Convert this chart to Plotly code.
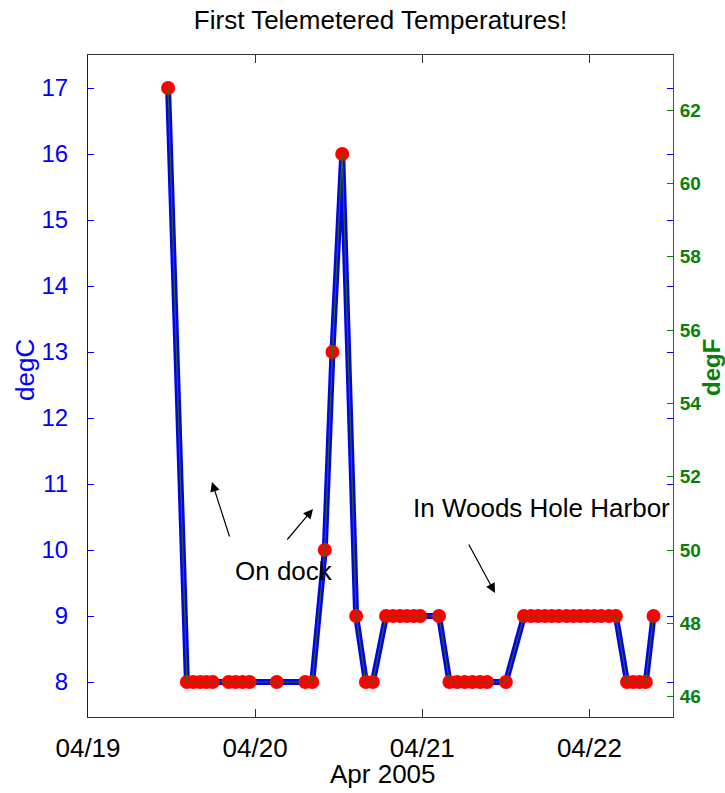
import plotly.graph_objects as go

# ---- data ----
times = [
    "2005-04-19 11:30",
    "2005-04-19 14:12", "2005-04-19 15:06", "2005-04-19 16:06", "2005-04-19 17:00", "2005-04-19 17:54",
    "2005-04-19 20:12", "2005-04-19 21:12", "2005-04-19 22:12", "2005-04-19 23:12",
    "2005-04-20 03:06",
    "2005-04-20 07:12", "2005-04-20 08:12",
    "2005-04-20 10:00", "2005-04-20 11:06", "2005-04-20 12:30", "2005-04-20 14:30",
    "2005-04-20 15:54", "2005-04-20 16:54",
    "2005-04-20 18:48", "2005-04-20 19:48", "2005-04-20 20:48", "2005-04-20 21:48", "2005-04-20 22:48", "2005-04-20 23:42",
    "2005-04-21 02:24",
    "2005-04-21 03:54", "2005-04-21 05:00", "2005-04-21 06:06", "2005-04-21 07:12", "2005-04-21 08:18", "2005-04-21 09:18",
    "2005-04-21 12:00",
    "2005-04-21 14:36", "2005-04-21 15:36", "2005-04-21 16:36", "2005-04-21 17:36", "2005-04-21 18:36",
    "2005-04-21 19:36", "2005-04-21 20:42", "2005-04-21 21:42", "2005-04-21 22:42", "2005-04-21 23:42",
    "2005-04-22 00:42", "2005-04-22 01:42", "2005-04-22 02:48", "2005-04-22 03:48",
    "2005-04-22 05:24", "2005-04-22 06:18", "2005-04-22 07:12", "2005-04-22 08:06",
    "2005-04-22 09:12",
]
temps_c = [
    17,
    8, 8, 8, 8, 8,
    8, 8, 8, 8,
    8,
    8, 8,
    10, 13, 16, 9,
    8, 8,
    9, 9, 9, 9, 9, 9,
    9,
    8, 8, 8, 8, 8, 8,
    8,
    9, 9, 9, 9, 9,
    9, 9, 9, 9, 9,
    9, 9, 9, 9,
    8, 8, 8, 8,
    9,
]
temps_f = [c * 9 / 5 + 32 for c in temps_c]

c_ticks = [8, 9, 10, 11, 12, 13, 14, 15, 16, 17]
f_ticks = [46, 48, 50, 52, 54, 56, 58, 60, 62]
x_ticks = ["2005-04-19", "2005-04-20", "2005-04-21", "2005-04-22"]
x_ticklabels = ["04/19", "04/20", "04/21", "04/22"]

c_range = [7.47, 17.5]
f_range = [c_range[0] * 9 / 5 + 32, c_range[1] * 9 / 5 + 32]
x_range = ["2005-04-19 00:00", "2005-04-22 12:00"]

BLUE = "#0000ff"
GREEN = "#0a7f0a"
FONT = "Liberation Sans"

W, H = 725, 793
# plot area in window pixels
L, R, T, B = 88, 673, 55, 717
PW, PH = R - L, B - T

fig = go.Figure()
fig.add_trace(go.Scatter(
    x=times, y=temps_c, mode="lines+markers",
    line=dict(color=BLUE, width=6),
    marker=dict(color="#ff0000", size=14, line=dict(width=0)),
    showlegend=False, yaxis="y",
))
fig.add_trace(go.Scatter(
    x=times, y=temps_f, mode="lines",
    line=dict(color="#2f6a00", width=1.2),
    showlegend=False, yaxis="y2",
))

fig.update_layout(
    width=W, height=H,
    margin=dict(l=L, r=W - R, t=T, b=H - B, autoexpand=False),
    paper_bgcolor="white", plot_bgcolor="white",
    font=dict(family=FONT, color="black"),
    title=dict(text="First Telemetered Temperatures!", x=(L + R) / 2 / W, xanchor="center",
               y=1 - 20 / H, yanchor="middle", yref="container", pad=dict(t=0, b=0, l=0, r=0),
               font=dict(size=26, family=FONT, color="black")),
    xaxis=dict(
        type="date", range=x_range, tickvals=x_ticks, ticktext=x_ticklabels,
        showgrid=False, zeroline=False, automargin=False,
        showline=True, linecolor="#333333", linewidth=1, mirror="ticks",
        ticks="inside", ticklen=8, tickcolor="#333333",
        tickfont=dict(size=26, family=FONT, color="black"),
        ticklabelstandoff=8,
    ),
    yaxis=dict(
        range=c_range, tickvals=c_ticks,
        showgrid=False, zeroline=False, automargin=False,
        showline=True, linecolor=BLUE, linewidth=1, mirror="ticks",
        ticks="inside", ticklen=6, tickcolor=BLUE,
        tickfont=dict(size=24, family=FONT, color=BLUE),
        ticklabelstandoff=14,
    ),
    yaxis2=dict(
        range=f_range, tickvals=f_ticks, overlaying="y", side="right",
        showgrid=False, zeroline=False, automargin=False,
        showline=True, linecolor=GREEN, linewidth=1,
        ticks="inside", ticklen=6, tickcolor=GREEN,
        tickfont=dict(size=19, family=FONT, color=GREEN, weight="bold"),
        ticklabelstandoff=2,
    ),
)

annotations = [
    # axis titles
    dict(text="degC", xref="paper", yref="paper", x=(25 - L) / PW, y=(B - 370) / PH,
         xanchor="center", yanchor="middle",
         textangle=-90, showarrow=False, font=dict(size=26, color=BLUE, family=FONT)),
    dict(text="degF", xref="paper", yref="paper", x=(711 - L) / PW, y=(B - 368) / PH,
         xanchor="center", yanchor="middle",
         textangle=-90, showarrow=False, font=dict(size=24, color=GREEN, family=FONT, weight="bold")),
    dict(text="Apr 2005", xref="paper", yref="paper", x=(383 - L) / PW, y=(B - 774) / PH,
         xanchor="center", yanchor="middle",
         showarrow=False, font=dict(size=26, color="black", family=FONT)),
    # labels
    dict(text="On dock", xref="paper", yref="paper", x=(284 - L) / PW, y=(B - 571) / PH,
         showarrow=False, xanchor="center", yanchor="middle",
         font=dict(size=26, color="black", family=FONT)),
    dict(text="In Woods Hole Harbor", xref="paper", yref="paper", x=(411 - L) / PW, y=(B - 508) / PH,
         showarrow=False, xanchor="left", yanchor="middle",
         font=dict(size=26, color="black", family=FONT)),
]
arrows = [
    ((212, 482), (230, 538)),
    ((313, 509), (286, 541)),
    ((495, 593), (468, 543)),
]
for (hx, hy), (tx, ty) in arrows:
    annotations.append(dict(
        text="", xref="paper", yref="paper", x=(hx - L) / PW, y=(B - hy) / PH,
        ax=tx - hx, ay=ty - hy, axref="pixel", ayref="pixel",
        showarrow=True, arrowhead=2, arrowsize=1.6, arrowwidth=1.2, arrowcolor="black",
    ))
fig.update_layout(annotations=annotations)

# remove the default page margin so the figure sits at the window's top-left corner
fig.write_html(
    "out.html",
    config={"displayModeBar": False},
    post_script="document.body.style.margin='0';document.body.style.overflow='hidden';",
)
